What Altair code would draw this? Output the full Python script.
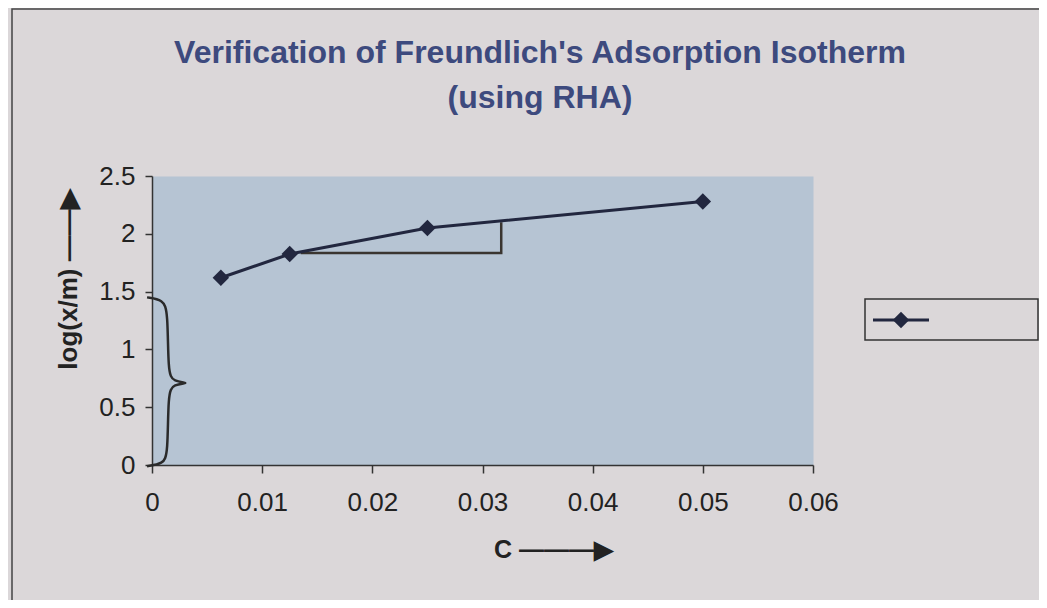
import altair as alt
import pandas as pd

# ---- data ----
conc = [0.00625, 0.0125, 0.025, 0.05]          # C
log_xm = [1.62, 1.825, 2.05, 2.28]             # log(x/m)

# slope triangle annotation (data units)
tri_x = [0.0135, 0.0317, 0.0317]
tri_y = [1.834, 1.834, 2.10]

# curly brace annotation on the intercept (data units)
brace_x = [-0.00045, 0.0010, 0.00145, 0.00145, 0.0019, 0.0036, 0.0019, 0.00145, 0.00145, 0.0010, -0.00045]
brace_y = [1.45, 1.43, 1.33, 0.80, 0.72, 0.71, 0.70, 0.62, 0.09, 0.01, -0.01]

x_ticks = [0, 0.01, 0.02, 0.03, 0.04, 0.05, 0.06]
y_ticks = [0, 0.5, 1, 1.5, 2, 2.5]

title_lines = ["Verification of Freundlich's Adsorption Isotherm", "(using RHA)"]
x_title = "C \u2014\u2014\u2014\u25B6"
y_title = "log(x/m) \u2014\u2014\u25B6"

FONT = "Liberation Sans"
LINE = "#22273f"
AX = "#333333"

df = pd.DataFrame({"C": conc, "logxm": log_xm})
tri = pd.DataFrame({"x": tri_x, "y": tri_y, "o": range(len(tri_x))})
brace = pd.DataFrame({"x": brace_x, "y": brace_y, "o": range(len(brace_x))})
one = pd.DataFrame({"k": [0]})

xs = alt.Scale(domain=[0, 0.06], nice=False, zero=False)
ys = alt.Scale(domain=[0, 2.5], nice=False, zero=False)

x_axis = alt.Axis(values=x_ticks, format="~g", grid=False, labelFont=FONT, labelFontSize=26,
                  labelColor="#222", labelPadding=16, labelFlush=False, tickSize=8, tickColor=AX,
                  tickWidth=1.5, domainColor=AX, domainWidth=1.5, title=x_title, titleFont=FONT,
                  titleFontSize=25, titleFontWeight="bold", titleColor="#222",
                  titleX=401, titleY=84, titleBaseline="middle", titleAlign="center")
y_axis = alt.Axis(values=y_ticks, format="~g", grid=False, labelFont=FONT, labelFontSize=26,
                  labelColor="#222", labelPadding=10, labelFlush=False, tickSize=7, tickColor=AX,
                  tickWidth=1.5, domainColor=AX, domainWidth=1.5, title=y_title, titleFont=FONT,
                  titleFontSize=26, titleFontWeight="bold", titleColor="#222",
                  titleX=-84, titleY=103, titleBaseline="middle", titleAlign="center")

frame = alt.Chart(one).mark_rect(fill="transparent", stroke="#444", strokeWidth=1.5).encode(
    x=alt.value(-140), x2=alt.value(900), y=alt.value(-167), y2=alt.value(427))

title = alt.Chart(one).mark_text(text=title_lines, font=FONT, fontSize=32, fontWeight="bold",
                                 color="#3d4a7e", lineHeight=45, align="center",
                                 baseline="middle").encode(
    x=alt.value(388), y=alt.value(-123))

series = alt.Chart(df).mark_line(color=LINE, strokeWidth=3,
                                 point=alt.OverlayMarkDef(shape="diamond", size=270, filled=True, color=LINE, opacity=1)).encode(
    x=alt.X("C:Q", scale=xs, axis=x_axis),
    y=alt.Y("logxm:Q", scale=ys, axis=y_axis),
)

triangle = alt.Chart(tri).mark_line(color="#3a3530", strokeWidth=2.5).encode(
    x=alt.X("x:Q", scale=xs), y=alt.Y("y:Q", scale=ys), order="o:Q")

brace_line = alt.Chart(brace).mark_line(color="#2a2a2a", strokeWidth=2.5, interpolate="basis").encode(
    x=alt.X("x:Q", scale=xs), y=alt.Y("y:Q", scale=ys), order="o:Q")

# legend (box with line+diamond symbol, no label)
leg_box = alt.Chart(one).mark_rect(fill="transparent", stroke="#333", strokeWidth=1.5).encode(
    x=alt.value(713), x2=alt.value(886), y=alt.value(123), y2=alt.value(164))
leg_line = alt.Chart(one).mark_rule(color=LINE, strokeWidth=3).encode(
    x=alt.value(721), x2=alt.value(777), y=alt.value(144))
leg_pt = alt.Chart(one).mark_point(shape="diamond", size=270, filled=True, color=LINE, opacity=1).encode(
    x=alt.value(749), y=alt.value(144))

chart = alt.layer(frame, title, brace_line, triangle, series, leg_box, leg_line, leg_pt).properties(
    width=661, height=289,
    autosize=alt.AutoSizeParams(type="none"),
    padding={"left": 144, "top": 168, "right": 226, "bottom": 135},
    background="#dbd7d9",
).configure_view(fill="#b6c4d3", stroke="transparent")

chart.save("out.html", embed_options={"renderer": "svg", "actions": False})
